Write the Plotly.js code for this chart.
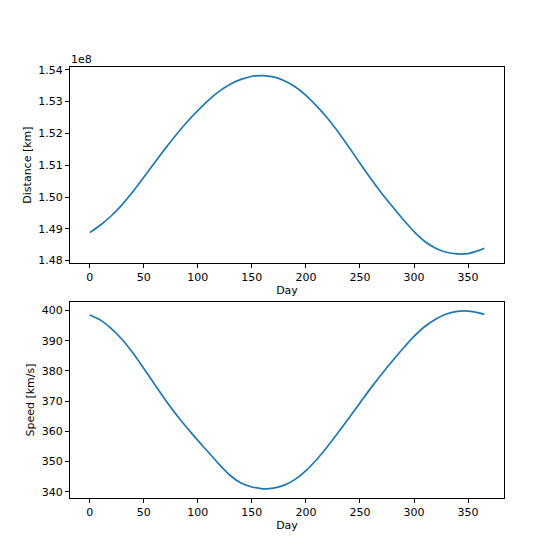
<!DOCTYPE html>
<html>
<head>
<meta charset="utf-8">
<script src="https://cdn.plot.ly/plotly-3.0.1.min.js"></script>
<style>html,body{margin:0;padding:0;background:#fff;}#chart{width:560px;height:560px;}</style>
</head>
<body>
<div id="chart"></div>
<script>
// Day of year
const days = [0,10,20,30,40,50,60,70,80,90,100,110,120,130,140,150,160,170,180,190,200,210,220,230,240,250,260,270,280,290,300,310,320,330,340,350,360,365];
// Distance in units of 1e8 km
const distanceE8 = [1.4888,1.4912,1.4941,1.4976,1.5017,1.5062,1.5108,1.5153,1.5196,1.5236,1.5272,1.5305,1.5333,1.5355,1.5370,1.5380,1.5382,1.5378,1.5366,1.5347,1.5320,1.5286,1.5248,1.5204,1.5156,1.5106,1.5058,1.5012,1.4970,1.4929,1.4891,1.4860,1.4839,1.4826,1.4821,1.4822,1.4832,1.4839];
// Speed in km/s
const speed = [398.5,396.8,394.0,390.4,385.9,380.8,375.6,370.4,365.6,361.2,357.0,353.0,349.0,345.4,342.9,341.6,341.0,341.2,342.2,344.1,347.0,350.7,355.0,359.7,364.5,369.4,374.3,378.9,383.3,387.5,391.4,394.7,397.1,398.8,399.7,399.8,399.2,398.7];
const xTicks = [0,50,100,150,200,250,300,350];
const distTicks = [1.48,1.49,1.50,1.51,1.52,1.53,1.54];
const speedTicks = [340,350,360,370,380,390,400];

const font = {family: 'DejaVu Sans', size: 11, color: '#000'};
const lineColor = '#1f77b4';

function axisBase() {
  return {
    showgrid: false, zeroline: false, showline: true, mirror: true,
    linecolor: '#000', linewidth: 1,
    ticks: 'outside', ticklen: 4, tickwidth: 1, tickcolor: '#000',
    tickfont: font
  };
}

const lineStyle = {color: lineColor, width: 1.7, shape: 'spline', smoothing: 0.6};
const traces = [
  {x: days, y: distanceE8, type: 'scatter', mode: 'lines', line: lineStyle, xaxis: 'x', yaxis: 'y', hoverinfo: 'skip'},
  {x: days, y: speed, type: 'scatter', mode: 'lines', line: lineStyle, xaxis: 'x2', yaxis: 'y2', hoverinfo: 'skip'}
];

const layout = {
  width: 560, height: 560,
  margin: {l: 70, r: 56, t: 67, b: 62},
  paper_bgcolor: '#fff', plot_bgcolor: '#fff',
  showlegend: false,
  font: font,
  xaxis: Object.assign(axisBase(), {
    domain: [0, 1], anchor: 'y', range: [-18.25, 383.25],
    tickmode: 'array', tickvals: xTicks, ticktext: xTicks.map(String),
    title: {text: 'Day', font: font, standoff: 2}
  }),
  yaxis: Object.assign(axisBase(), {
    domain: [0.545, 1], anchor: 'x', range: [1.4792, 1.5409],
    tickmode: 'array', tickvals: distTicks, ticktext: distTicks.map(v => v.toFixed(2)),
    title: {text: 'Distance [km]', font: font, standoff: 4}
  }),
  xaxis2: Object.assign(axisBase(), {
    domain: [0, 1], anchor: 'y2', range: [-18.25, 383.25],
    tickmode: 'array', tickvals: xTicks, ticktext: xTicks.map(String),
    title: {text: 'Day', font: font, standoff: 2}
  }),
  yaxis2: Object.assign(axisBase(), {
    domain: [0, 0.4548], anchor: 'x2', range: [337.95, 402.8],
    tickmode: 'array', tickvals: speedTicks, ticktext: speedTicks.map(String),
    title: {text: 'Speed [km/s]', font: font, standoff: 4}
  }),
  annotations: [
    {text: '1e8', xref: 'paper', yref: 'paper', x: 0, y: 1, xanchor: 'left', yanchor: 'bottom', showarrow: false, font: font, xshift: -1, yshift: -1}
  ]
};

Plotly.newPlot('chart', traces, layout, {staticPlot: true, displayModeBar: false});
</script>
</body>
</html>
